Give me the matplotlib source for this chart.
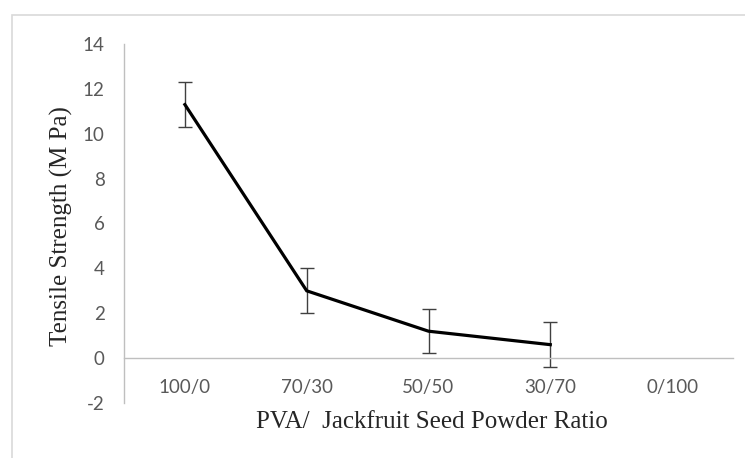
import matplotlib
matplotlib.use("Agg")
import matplotlib.pyplot as plt
from matplotlib.patches import Rectangle

categories = ["100/0", "70/30", "50/50", "30/70", "0/100"]
strength = [11.3, 3.0, 1.2, 0.6]
errors = [1.0, 1.0, 0.97, 1.0]
yticks = [-2, 0, 2, 4, 6, 8, 10, 12, 14]

fig = plt.figure(figsize=(7.45, 4.58), dpi=100)
fig.patch.set_facecolor("white")
fig.patches.append(Rectangle((12/745, -0.1), 1.2, 1 - 15/458 + 0.1, transform=fig.transFigure,
                             fill=False, edgecolor="#d9d9d9", linewidth=1.2))

ax = fig.add_axes([124/745, 1 - 403/458, (733-124)/745, (403-44)/458])
x = list(range(len(categories)))
ax.plot(x[:len(strength)], strength, color="black", lw=2.3, solid_joinstyle="miter", zorder=3)
ax.errorbar(x[:len(strength)], strength, yerr=errors, fmt="none", ecolor="#404040",
            elinewidth=1.0, capsize=5, capthick=1.0, zorder=2)

ax.set_xlim(-0.5, len(categories) - 0.5)
ax.set_ylim(-2, 14)
ax.set_yticks(yticks)
ax.set_yticklabels([str(v) for v in yticks])
ax.set_xticks(x)
ax.set_xticklabels(categories)

for s in ["top", "right"]:
    ax.spines[s].set_visible(False)
ax.spines["bottom"].set_position(("data", 0))
ax.spines["bottom"].set_color("#bfbfbf")
ax.spines["left"].set_color("#bfbfbf")
ax.spines["bottom"].set_linewidth(1.0)
ax.spines["left"].set_linewidth(1.0)
ax.tick_params(axis="both", length=0, colors="#595959", labelsize=13.5)
ax.tick_params(axis="x", pad=15)
ax.tick_params(axis="y", pad=14)
for lbl in ax.get_xticklabels() + ax.get_yticklabels():
    lbl.set_fontfamily("Lato")
    lbl.set_color("#595959")

fig.text(61/745, 1 - 226/458, "Tensile Strength (M Pa)", rotation=90, ha="center", va="center",
         fontfamily="Liberation Serif", fontsize=18, color="#262626")
fig.text(432/745, 1 - 422/458, "PVA/  Jackfruit Seed Powder Ratio", ha="center", va="center",
         fontfamily="Liberation Serif", fontsize=18, color="#262626")

fig.savefig("out.png", dpi=100, facecolor="white")
